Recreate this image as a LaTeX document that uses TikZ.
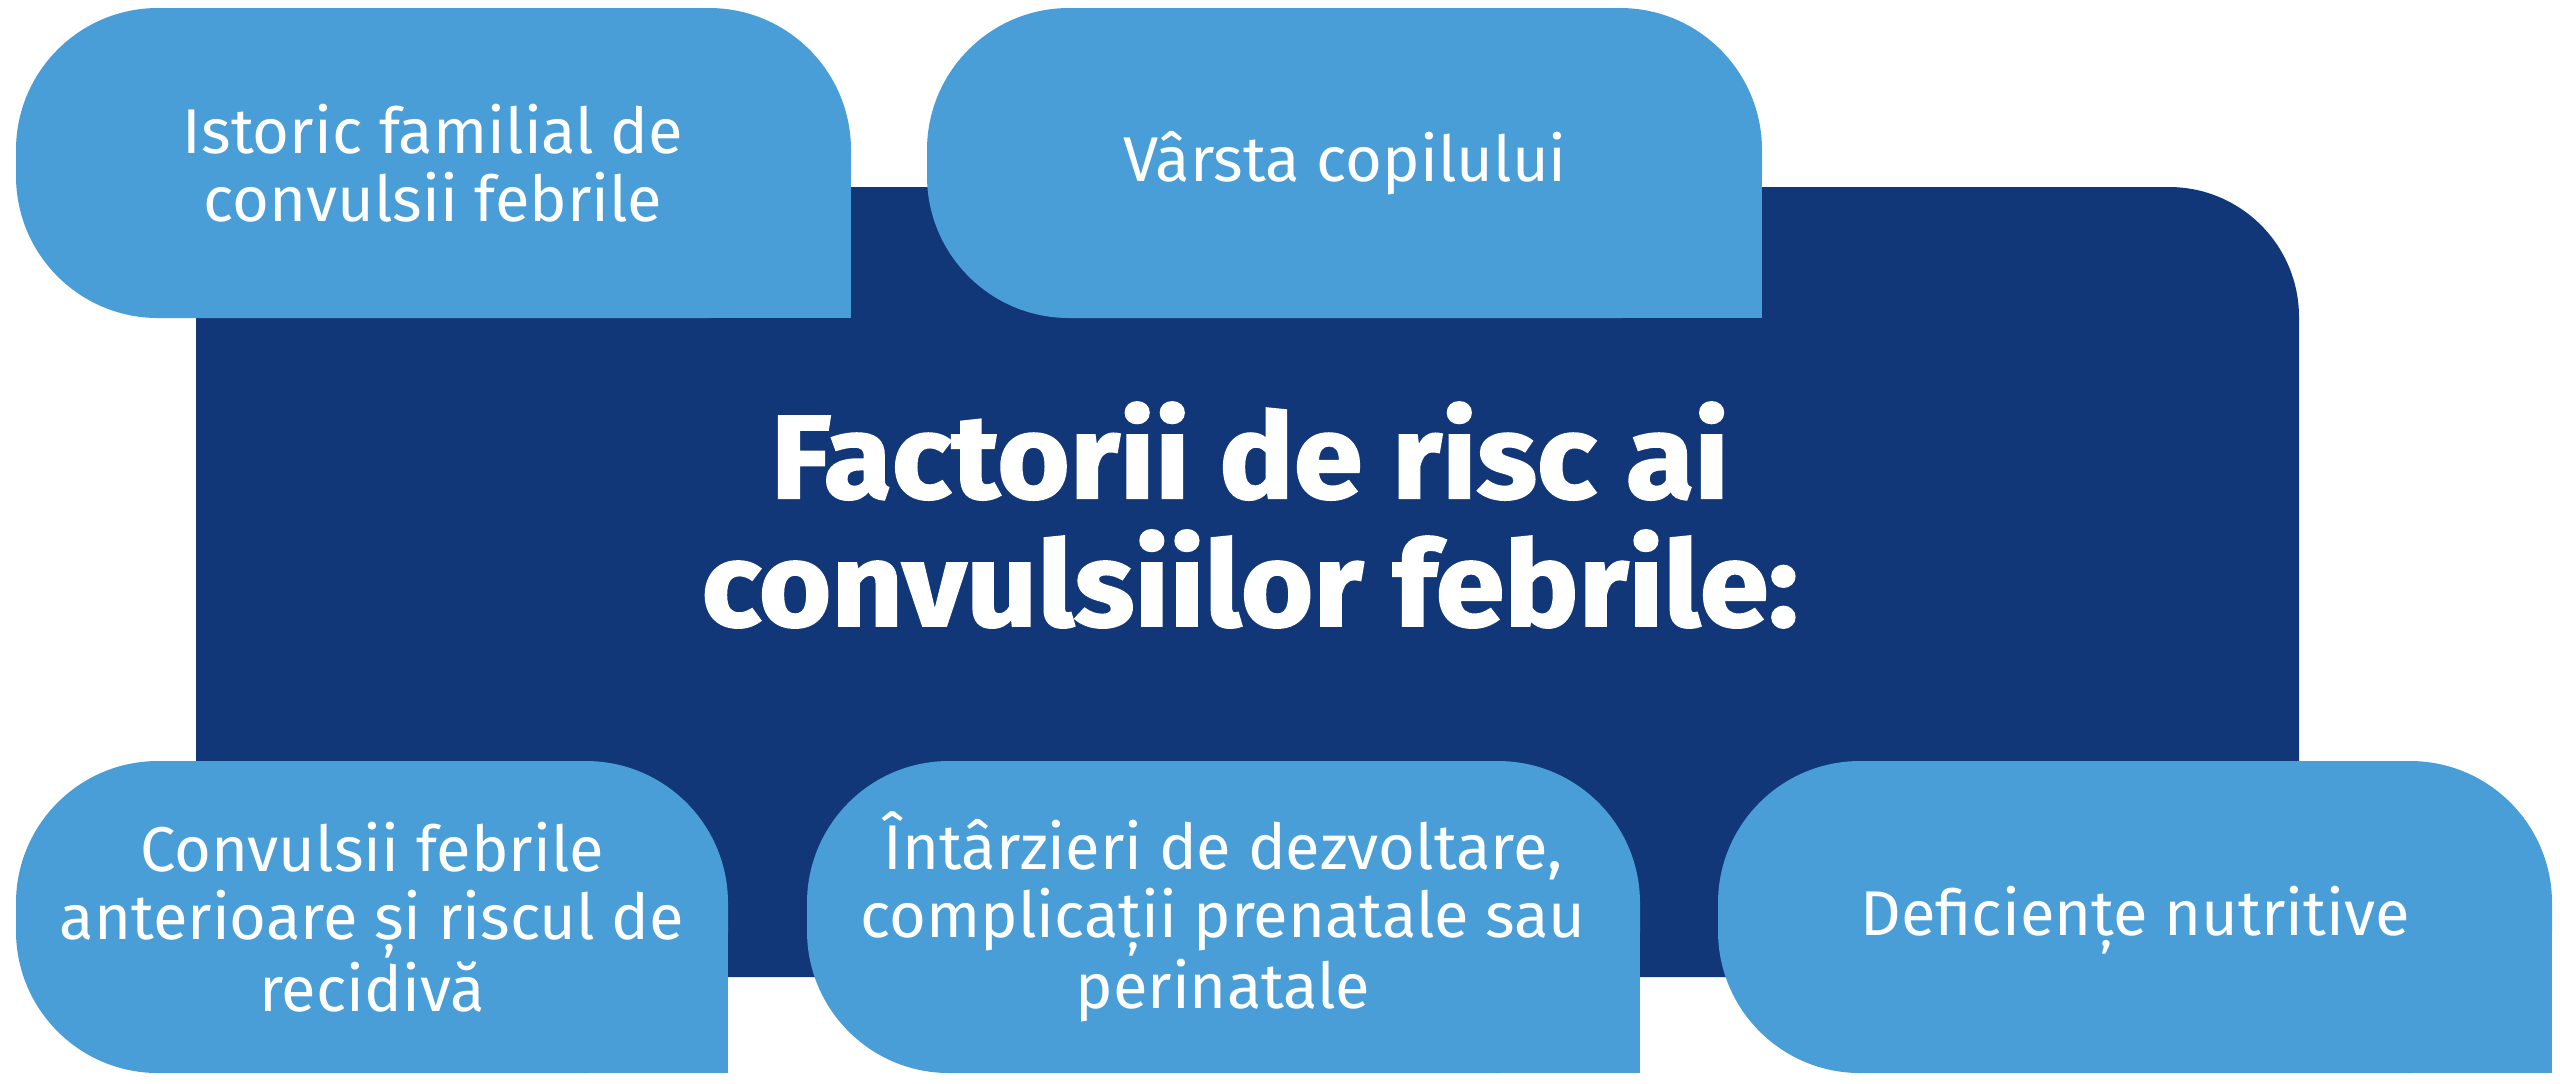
\documentclass[tikz,border=0pt]{standalone}
\usepackage{fontspec}
\setmainfont{Fira Sans}[BoldFeatures={FakeBold=1.6, FakeStretch=1.05}]
\usetikzlibrary{positioning}

\definecolor{navy}{RGB}{18,55,120}
\definecolor{boxblue}{RGB}{73,158,215}

\tikzset{
  factorbox/.style={fill=boxblue, rounded corners=1.42cm},
  factortext/.style={text=white, align=center, font=\fontsize{18}{19.3}\selectfont},
  titletext/.style={text=white, align=center, font=\fontsize{33.7}{36.4}\selectfont\bfseries}
}

\begin{document}
\begin{tikzpicture}[x=0.1mm, y=-0.1mm]
\useasboundingbox (0,0) rectangle (2560,1083);
\fill[white] (0,0) rectangle (2560,1083);

% central panel
\fill[navy, rounded corners=1.3cm] (196,187) rectangle (2299,977);
\node[titletext] (title) at (1250,515) {Factorii de risc ai\\convulsiilor febrile:};

% top row
\fill[factorbox] (16,8) rectangle (851,318);
\fill[boxblue] (433,163) rectangle (851,318);
\node[factortext] (istoric) at (433,163) {Istoric familial de\\convulsii febrile};

\fill[factorbox] (927,8) rectangle (1762,318);
\fill[boxblue] (1345,163) rectangle (1762,318);
\node[factortext] (varsta) at (1345,163) {Vârsta copilului};

% bottom row
\fill[factorbox] (16,761) rectangle (728,1073);
\fill[boxblue] (372,917) rectangle (728,1073);
\node[factortext] (anterioare) at (372,917) {Convulsii febrile\\anterioare și riscul de\\recidivă};

\fill[factorbox] (807,761) rectangle (1640,1073);
\fill[boxblue] (1223,917) rectangle (1640,1073);
\node[factortext] (intarzieri) at (1223,917) {Întârzieri de dezvoltare,\\complicații prenatale sau\\perinatale};

\fill[factorbox] (1718,761) rectangle (2552,1073);
\fill[boxblue] (2135,917) rectangle (2552,1073);
\node[factortext] (nutritive) at (2135,920) {Deficiențe nutritive};
\end{tikzpicture}
\end{document}
